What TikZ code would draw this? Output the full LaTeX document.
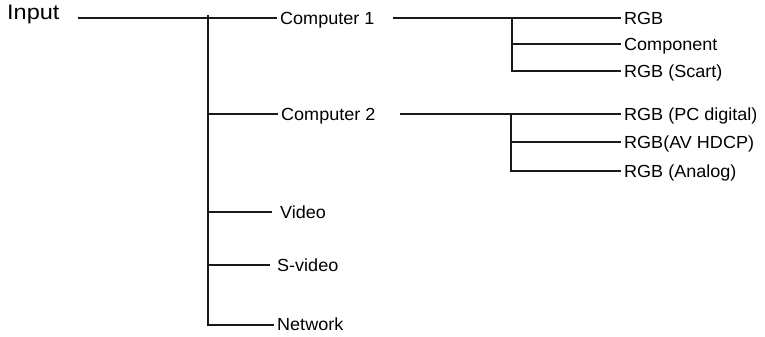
\documentclass[tikz,border=0pt]{standalone}
\usepackage{fontspec}
\setmainfont{Liberation Sans}[FakeStretch=1.03]
\newfontfamily\rootfont{Liberation Sans}[FakeStretch=1.12]
\usepackage{tikz}
\usetikzlibrary{calc}
\tikzset{
  wire/.style={line width=1.4pt, black!90},
  lbl/.style={anchor=base west, inner xsep=3pt, inner ysep=0pt,
    font=\fontsize{17.5}{20}\selectfont},
  rootlbl/.style={anchor=base west, inner sep=0pt,
    font=\rootfont\fontsize{21}{24}\selectfont},
}

\begin{document}
\begin{tikzpicture}[x=1pt,y=-1pt]
    \useasboundingbox (0,0) rectangle (765,337);
    % labels
    \node[rootlbl] (input) at (7,20) {Input};
    \node[lbl] (comp1) at (277,24.3) {Computer 1};
    \node[lbl] (comp2) at (278,120.3) {Computer 2};
    \node[lbl] (video) at (277,218.3) {Video};
    \node[lbl] (svideo) at (274,271.3) {S-video};
    \node[lbl] (network) at (274,330.3) {Network};
    \node[lbl] (rgb) at (621,24.3) {RGB};
    \node[lbl] (component) at (621,50.3) {Component};
    \node[lbl] (scart) at (621,77.3) {RGB (Scart)};
    \node[lbl] (pcdig) at (621,120.3) {RGB (PC digital)};
    \node[lbl] (avhdcp) at (621,148.3) {RGB(AV HDCP)};
    \node[lbl] (analog) at (621,177.3) {RGB (Analog)};
    % trunk
    \coordinate (in) at (78,18);
    \coordinate (top) at (208,15);
    \coordinate (j2) at (208,114);
    \coordinate (j3) at (208,212);
    \coordinate (j4) at (208,265);
    \coordinate (bot) at (208,325);
    \draw[wire] (in) -- (in -| comp1.west);
    \draw[wire] (top) -- (bot) -- (bot -| network.west);
    \draw[wire] (j2) -- (j2 -| comp2.west);
    \draw[wire, shorten >=5pt] (j3) -- (j3 -| video.west);
    \draw[wire, shorten >=4pt] (j4) -- (j4 -| svideo.west);
    % computer 1
    \coordinate (s1) at (393,18);
    \coordinate (k1) at (512,18);
    \coordinate (k1b) at (512,44);
    \coordinate (k1c) at (512,71);
    \draw[wire] (s1) -- (s1 -| rgb.west);
    \draw[wire] (k1) -- (k1c) -- (k1c -| scart.west);
    \draw[wire] (k1b) -- (k1b -| component.west);
    % computer 2
    \coordinate (s2) at (400,114);
    \coordinate (k2) at (511,114);
    \coordinate (k2b) at (511,142);
    \coordinate (k2c) at (511,171);
    \draw[wire] (s2) -- (s2 -| pcdig.west);
    \draw[wire] (k2) -- (k2c) -- (k2c -| analog.west);
    \draw[wire] (k2b) -- (k2b -| avhdcp.west);
\end{tikzpicture}
\end{document}
